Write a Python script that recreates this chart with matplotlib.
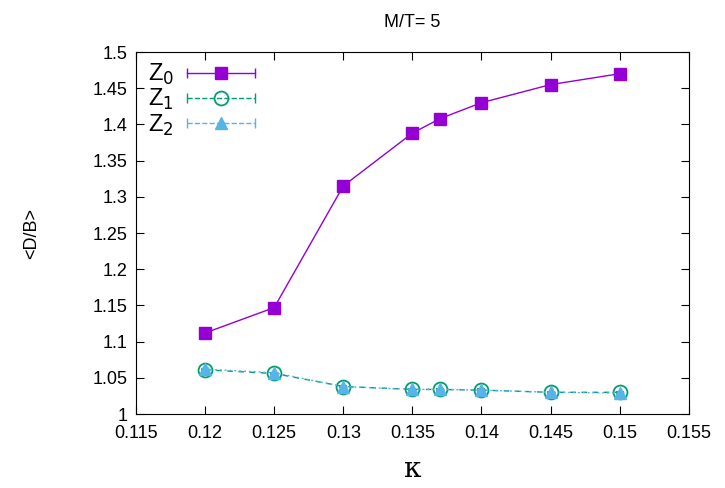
import numpy as np
import matplotlib
matplotlib.use("Agg")
import matplotlib.pyplot as plt
from matplotlib.lines import Line2D
from matplotlib.legend_handler import HandlerBase

plt.rcParams['font.family'] = ['Liberation Sans', 'DejaVu Sans']

kappa = [0.12, 0.125, 0.13, 0.135, 0.137, 0.14, 0.145, 0.15]
z0 = [1.112, 1.147, 1.315, 1.388, 1.408, 1.430, 1.455, 1.470]
z1 = [1.061, 1.056, 1.038, 1.034, 1.034, 1.033, 1.030, 1.030]
z2 = [1.062, 1.057, 1.038, 1.034, 1.034, 1.033, 1.030, 1.029]
err = [0.001] * len(kappa)

xticks = [0.115, 0.12, 0.125, 0.13, 0.135, 0.14, 0.145, 0.15, 0.155]
yticks = [1, 1.05, 1.1, 1.15, 1.2, 1.25, 1.3, 1.35, 1.4, 1.45, 1.5]


# gnuplot-like key sample: line with end caps and marker in the middle
class GnuHandler(HandlerBase):
    def create_artists(self, legend, orig, xd, yd, width, height, fontsize, trans):
        y = yd + height / 2
        line = Line2D([xd, xd + width], [y, y], color=orig.get_color(),
                      ls=orig.get_linestyle(), lw=orig.get_linewidth())
        caps = Line2D([xd, xd + width], [y, y], color=orig.get_color(), ls='none',
                      marker='|', ms=7, mew=1)
        mk = Line2D([xd + width / 2], [y], color=orig.get_color(), ls='none',
                    marker=orig.get_marker(), ms=orig.get_markersize(),
                    mfc=orig.get_markerfacecolor(), mew=orig.get_markeredgewidth())
        for a in (line, caps, mk):
            a.set_transform(trans)
        return [line, caps, mk]


fig = plt.figure(figsize=(7.25, 4.88), dpi=100)
ax = fig.add_axes([0.1876, 0.1516, 0.7624, 0.7418])

ax.errorbar(kappa, z0, yerr=err, color='#9400d3', marker='s', ms=8, lw=1, capsize=3)
ax.errorbar(kappa, z1, yerr=err, color='#009e73', marker='o', ms=10, mfc='none',
            mew=1.3, lw=1, ls=(0, (4, 4)), capsize=3)
ax.errorbar(kappa, z2, yerr=err, color='#56b4e9', marker='^', ms=8, lw=1,
            ls=(0, (1.5, 2)), capsize=3)

h0 = Line2D([], [], color='#9400d3', marker='s', ms=9, lw=1)
h1 = Line2D([], [], color='#009e73', marker='o', ms=10, mfc='none', mew=1.3, lw=1,
            ls=(0, (4, 4)))
h2 = Line2D([], [], color='#56b4e9', marker='^', ms=9, lw=1, ls=(0, (1.5, 2)))

ax.set_xlim(0.115, 0.155)
ax.set_ylim(1, 1.5)
ax.set_xticks(xticks)
ax.set_xticklabels([f'{t:g}' for t in xticks])
ax.set_yticks(yticks)
ax.set_yticklabels([f'{t:g}' for t in yticks])
ax.tick_params(direction='in', top=True, right=True, labelsize=13, length=6, pad=6)
ax.tick_params(axis='x', pad=8)

ax.set_title('M/T= 5', fontsize=13, pad=18)
ax.set_xlabel('κ', fontsize=20, family=['DejaVu Serif'], labelpad=10)
ax.set_ylabel('<D/B>', fontsize=13, labelpad=38)

ax.legend([h0, h1, h2], ['Z$_0$', 'Z$_1$', 'Z$_2$'], handler_map={Line2D: GnuHandler()},
          loc='upper left', frameon=False, fontsize=17, handlelength=2.9,
          borderaxespad=0.1, labelspacing=0.0, handletextpad=0.55,
          markerfirst=False, bbox_to_anchor=(0.0, 1.005))

fig.savefig('out.png', dpi=100)
